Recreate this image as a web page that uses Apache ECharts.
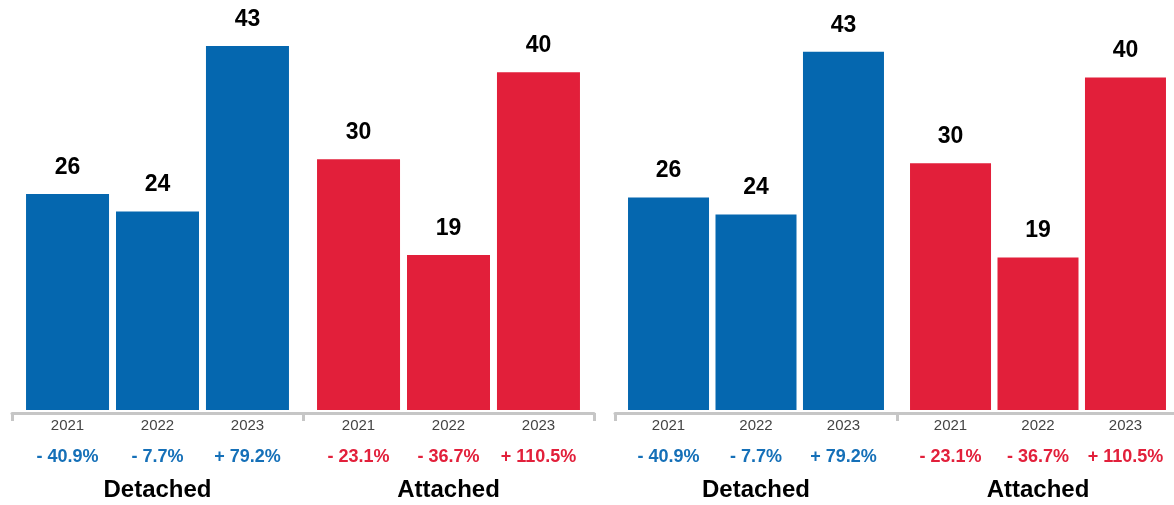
<!DOCTYPE html>
<html><head><meta charset="utf-8">
<script src="https://cdn.jsdelivr.net/npm/echarts@6/dist/echarts.min.js"></script>
<style>html,body{margin:0;padding:0;background:#fff;overflow:hidden}#c{width:1184px;height:505px}</style>
</head><body><div id="c"></div>
<script>
const groups = ['Detached', 'Attached'];
const years = ['2021', '2022', '2023'];
const detachedValues = [26, 24, 43];
const attachedValues = [30, 19, 40];
const detachedChange = ['- 40.9%', '- 7.7%', '+ 79.2%'];
const attachedChange = ['- 23.1%', '- 36.7%', '+ 110.5%'];

const BLUE = '#0567af', RED = '#e21f3a';
const groupColors = [BLUE, RED];
const groupValues = [detachedValues, attachedValues];
const groupChanges = [detachedChange, attachedChange];
const FONT = '"Liberation Sans", Arial, Helvetica, sans-serif';
const AXIS_GRAY = '#c6c6c6';

const panels = [
  {left: 12, width: 582, top: 20, height: 390, barWidth: 83, barGap: '8.4%'},
  {left: 615, width: 564, top: 26, height: 384, barWidth: 81, barGap: '8%'}
];

const grid = [], xAxis = [], yAxis = [], series = [];
panels.forEach((p, pi) => {
  grid.push({left: p.left, width: p.width, top: p.top, height: p.height});
  xAxis.push({
    gridIndex: pi, type: 'category', data: groups, offset: 3,
    axisLine: {show: true, lineStyle: {color: AXIS_GRAY, width: 3}},
    axisTick: {show: true, length: 8, lineStyle: {color: AXIS_GRAY, width: 3}},
    axisLabel: {margin: 65, fontFamily: FONT, fontSize: 24, fontWeight: 'bold', color: '#000', lineHeight: 24},
    splitLine: {show: false}
  });
  xAxis.push({gridIndex: pi, type: 'category', data: groups, show: false});
  yAxis.push({gridIndex: pi, type: 'value', min: 1.2, max: 46, show: false, splitLine: {show: false}});
  years.forEach((yr, yi) => {
    series.push({
      type: 'bar', name: yr, xAxisIndex: 2 * pi, yAxisIndex: pi,
      barWidth: p.barWidth, barGap: p.barGap, silent: true,
      data: groups.map((g, gi) => ({value: groupValues[gi][yi], itemStyle: {color: groupColors[gi]}})),
      label: {show: true, position: 'top', distance: 15, fontFamily: FONT, fontSize: 23, fontWeight: 'bold', color: '#000'}
    });
  });
  years.forEach((yr, yi) => {
    series.push({
      type: 'bar', name: yr + ' change', xAxisIndex: 2 * pi + 1, yAxisIndex: pi,
      barWidth: p.barWidth, barGap: p.barGap, silent: true,
      data: groups.map((g, gi) => ({value: groupValues[gi][yi], itemStyle: {color: 'rgba(0,0,0,0)'}})),
      label: {
        show: true, position: 'bottom', distance: 6,
        formatter: (params) => '{y|' + years[yi] + '}\n{' + (params.dataIndex === 0 ? 'pb' : 'pr') + '|' + groupChanges[params.dataIndex][yi] + '}',
        rich: {
          y: {fontFamily: FONT, fontSize: 15, color: '#444', lineHeight: 20},
          pb: {fontFamily: FONT, fontSize: 18, fontWeight: 'bold', color: '#1570b8', lineHeight: 42},
          pr: {fontFamily: FONT, fontSize: 18, fontWeight: 'bold', color: '#e2203b', lineHeight: 42}
        }
      }
    });
  });
});

const chart = echarts.init(document.getElementById('c'), null, {renderer: 'canvas'});
chart.setOption({animation: false, backgroundColor: '#fff', grid, xAxis, yAxis, series});
</script></body></html>
